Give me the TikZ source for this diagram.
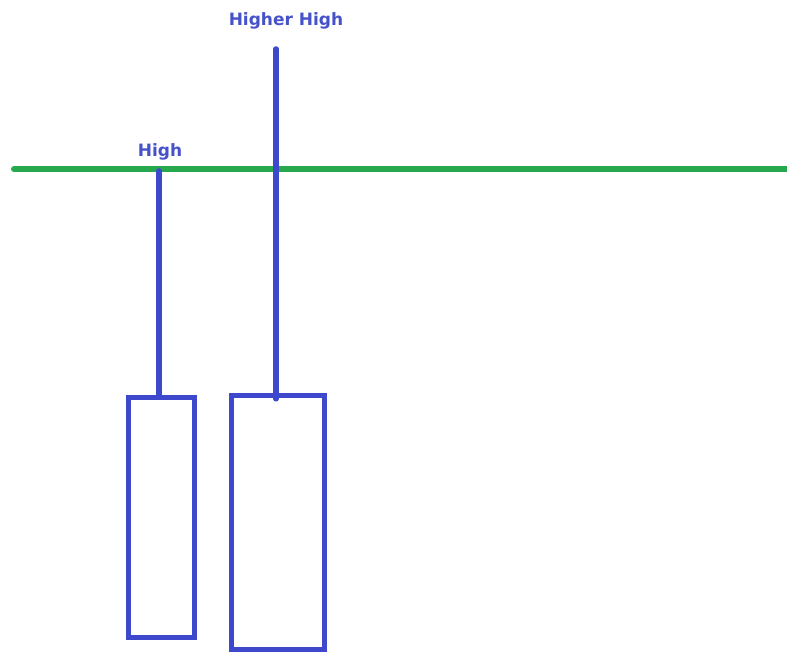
\documentclass[tikz,border=0pt]{standalone}
\usepackage{fontspec}
\setsansfont{DejaVu Sans}
\usetikzlibrary{calc,positioning}
\definecolor{candleblue}{RGB}{62,72,204}
\definecolor{labelblue}{RGB}{70,82,202}
\definecolor{levelgreen}{RGB}{40,168,78}
\tikzset{
  candle/.style={draw=candleblue,line width=5.5pt,inner sep=0pt},
  wick/.style={candleblue,line width=5.5pt,line cap=round},
  level/.style={levelgreen,line width=6pt,line cap=round},
  tag/.style={text=labelblue,font=\sffamily\bfseries\fontsize{17}{20}\selectfont,inner sep=0pt}
}

\begin{document}
\begin{tikzpicture}[x=1pt,y=-1pt]
\useasboundingbox (0,0) rectangle (787,652);
\draw[level] (14,169) -- (795,169);
% the two candles
\node[candle,minimum width=66pt,minimum height=240pt] (lbody) at (161.5,517.5) {};
\node[candle,minimum width=93pt,minimum height=254pt] (rbody) at (278,522.5) {};
\coordinate (lhigh) at (159,171);
\coordinate (rhigh) at (276,49);
\draw[wick] (lhigh) -- (lhigh |- lbody.north);
\draw[wick] (rhigh) -- ($(rhigh |- rbody.north)+(0,6)$);
\node[tag] (hh) at (286,21) {Higher High};
\node[tag] (h) at (160,152) {High};
\end{tikzpicture}
\end{document}
